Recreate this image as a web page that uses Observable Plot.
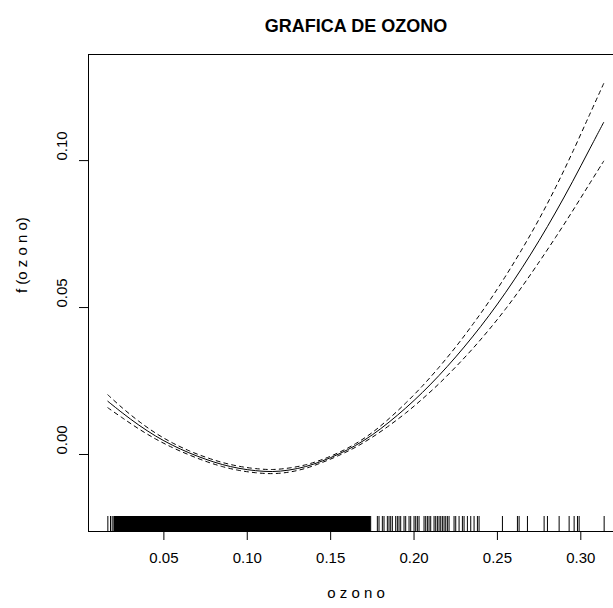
<!DOCTYPE html>
<html><head><meta charset="utf-8">
<script src="https://cdn.jsdelivr.net/npm/d3@7"></script>
<script src="https://cdn.jsdelivr.net/npm/@observablehq/plot@0.6"></script>
<style>html,body{margin:0;padding:0;background:#fff;overflow:hidden} svg{display:block}</style>
</head><body><div id="chart"></div>
<script>
// Smooth term f(ozono)
const fitX = [0.0164,0.025,0.035,0.045,0.055,0.065,0.075,0.085,0.095,0.105,0.115,0.125,0.135,0.145,0.155,0.165,0.175,0.185,0.195,0.205,0.215,0.225,0.235,0.245,0.255,0.265,0.275,0.285,0.295,0.305,0.3137];
const fitY = [0.0181,0.0142,0.0100,0.0063,0.0032,0.0006,-0.0016,-0.0034,-0.0047,-0.0055,-0.0058,-0.0053,-0.0041,-0.0022,0.0002,0.0031,0.0067,0.0110,0.0158,0.0211,0.0269,0.0332,0.0400,0.0473,0.0552,0.0637,0.0728,0.0825,0.0928,0.1036,0.1130];
// two standard errors (half width of the dashed band)
const se2 = [0.0022,0.0017,0.0013,0.0010,0.0008,0.0007,0.0007,0.0007,0.0007,0.0007,0.0007,0.0007,0.0006,0.0005,0.0005,0.0006,0.0008,0.0012,0.0017,0.0022,0.0028,0.0034,0.0041,0.0048,0.0056,0.0064,0.0073,0.0085,0.0100,0.0117,0.0132];

// Rug: observed ozone values
const rugDense = [
0.021,0.022,0.023,0.024,0.025,0.026,0.027,0.028,0.029,0.030,0.031,0.032,0.033,0.034,0.035,0.036,0.037,0.038,0.039,0.040,
0.041,0.042,0.043,0.044,0.045,0.046,0.047,0.048,0.049,0.050,0.051,0.052,0.053,0.054,0.055,0.056,0.057,0.058,0.059,0.060,
0.061,0.062,0.063,0.064,0.065,0.066,0.067,0.068,0.069,0.070,0.071,0.072,0.073,0.074,0.075,0.076,0.077,0.078,0.079,0.080,
0.081,0.082,0.083,0.084,0.085,0.086,0.087,0.088,0.089,0.090,0.091,0.092,0.093,0.094,0.095,0.096,0.097,0.098,0.099,0.100,
0.101,0.102,0.103,0.104,0.105,0.106,0.107,0.108,0.109,0.110,0.111,0.112,0.113,0.114,0.115,0.116,0.117,0.118,0.119,0.120,
0.121,0.122,0.123,0.124,0.125,0.126,0.127,0.128,0.129,0.130,0.131,0.132,0.133,0.134,0.135,0.136,0.137,0.138,0.139,0.140,
0.141,0.142,0.143,0.144,0.145,0.146,0.147,0.148,0.149,0.150,0.151,0.152,0.153,0.154,0.155,0.156,0.157,0.158,0.159,0.160,
0.161,0.162,0.163,0.164,0.165,0.166,0.167,0.168,0.169,0.170,0.171,0.172,0.173];
const rugSparse = [0.0164,0.018,0.019,0.020,
0.174,0.178,0.179,0.181,0.182,0.184,0.185,0.186,0.187,0.189,0.190,0.191,0.192,0.194,0.195,0.197,0.198,
0.200,0.201,0.202,0.203,0.206,0.207,0.208,0.209,0.210,0.212,0.213,0.214,0.215,0.216,0.217,0.218,0.219,0.220,0.221,
0.224,0.225,0.227,0.229,0.230,0.232,0.234,0.236,0.238,0.239,
0.253,0.262,0.263,0.268,0.278,0.280,0.287,0.293,0.296,0.298,0.299,0.314];

const xTicks = [0.05,0.10,0.15,0.20,0.25,0.30];
const yTicks = [0.00,0.05,0.10];
const xDomain = [0.0048,0.3256];
const yDomain = [-0.0262,0.1361];
const titleText = "GRAFICA DE OZONO";
const xLabel = "o z o n o";
const yLabel = "f (o z o n o)";

const rows = fitX.map((x,i)=>({x, fit: fitY[i], upper: fitY[i]+se2[i], lower: fitY[i]-se2[i]}));
const fmt = d3.format(".2f");
const font = "'Liberation Sans', Arial, Helvetica, sans-serif";

const chart = Plot.plot({
  width: 613, height: 608,
  marginLeft: 88, marginRight: -10, marginTop: 54, marginBottom: 77,
  style: {fontFamily: font, fontSize: "15px", background: "white", color: "black", overflow: "hidden"},
  x: {domain: xDomain},
  y: {domain: yDomain},
  marks: [
    Plot.frame({stroke: "black", strokeWidth: 1}),
    Plot.axisX({ticks: xTicks, tickFormat: fmt, tickSize: 9, tickPadding: 12, label: null, fontSize: 15}),
    Plot.axisY({ticks: yTicks, tickFormat: fmt, tickSize: 9, label: null, text: null}),
    Plot.text(yTicks, {y: d=>d, text: d=>fmt(d), frameAnchor: "left", rotate: -90, dx: -26, fontSize: 15, fill: "black"}),
    Plot.ruleX(rugDense, {x: d=>d, insetTop: 462, stroke: "black", strokeWidth: 3}),
    Plot.ruleX(rugSparse, {x: d=>d, insetTop: 462, stroke: "black", strokeWidth: 1}),
    Plot.line(rows, {x: "x", y: "fit", stroke: "black", strokeWidth: 1, curve: "catmull-rom"}),
    Plot.line(rows, {x: "x", y: "upper", stroke: "black", strokeWidth: 1, strokeDasharray: "4,4", curve: "catmull-rom"}),
    Plot.line(rows, {x: "x", y: "lower", stroke: "black", strokeWidth: 1, strokeDasharray: "4,4", curve: "catmull-rom"}),
    Plot.text([titleText], {frameAnchor: "top", dy: -35, fontWeight: "bold", fontSize: 18, fill: "black"}),
    Plot.text([xLabel], {frameAnchor: "bottom", dy: 66, fontSize: 15, fill: "black"}),
    Plot.text([yLabel], {frameAnchor: "left", rotate: -90, dx: -66, fontSize: 15, fill: "black"})
  ]
});
document.getElementById("chart").appendChild(chart);
</script>
</body></html>
